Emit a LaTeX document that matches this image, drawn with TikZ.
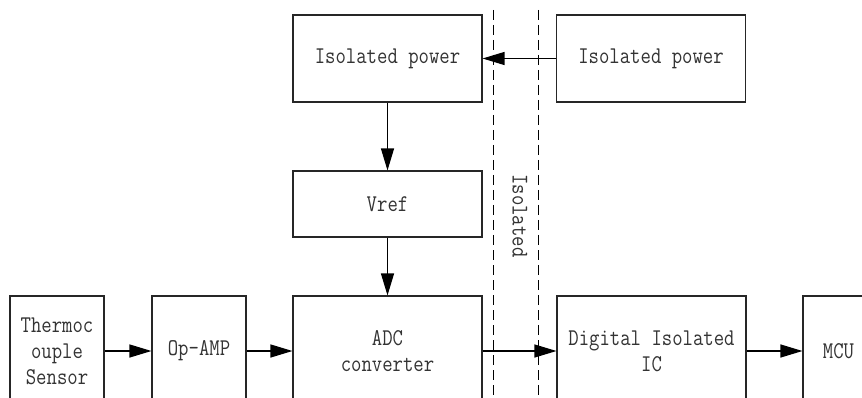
\documentclass[tikz,border=0pt]{standalone}
\usepackage{fontspec}
\setmainfont{Liberation Serif}
\newfontfamily\monof[FakeStretch=0.84]{Latin Modern Mono}
\usetikzlibrary{arrows.meta}
\begin{document}
\begin{tikzpicture}[x=1pt,y=-1pt,
  box/.style={draw=black!85, line width=1.1pt, font=\monof\fontsize{24}{26}\selectfont, align=center, inner sep=0pt, text=black!80},
  lbl/.style={font=\monof\fontsize{24}{26}\selectfont, text=black!80, inner sep=0pt},
  arr/.style={-{Triangle[length=22pt,width=13pt]}, line width=1.2pt},
  sep/.style={dash pattern=on 10pt off 5pt, line width=1pt}]
\useasboundingbox (0,0) rectangle (862,398);
\clip (0,0) rectangle (862,398);
% top row
\node[box, minimum width=189pt, minimum height=87pt] (ip1) at (387.5,58.5) {Isolated power};
\node[box, minimum width=189pt, minimum height=87pt] (ip2) at (651,58.5) {Isolated power};
\node[box, minimum width=189pt, minimum height=66pt] (vref) at (387.5,204) {Vref};
% bottom row
\node[box, minimum width=94pt, minimum height=110pt] (tc) at (57,351) {Thermoc\\ouple\\Sensor};
\node[box, minimum width=94pt, minimum height=110pt] (op) at (199,351) {Op-AMP};
\node[box, minimum width=189pt, minimum height=110pt] (adc) at (387.5,351) {ADC\\converter};
\node[box, minimum width=189pt, minimum height=110pt] (dig) at (651.5,351) {Digital Isolated\\IC};
\node[box, minimum width=71pt, minimum height=110pt] (mcu) at (838.5,351) {MCU};
% isolation barrier
\coordinate (d1t) at (493,10);
\coordinate (d1b) at (493,410);
\coordinate (d2t) at (538,10);
\coordinate (d2b) at (538,410);
\draw[sep] (d1t) -- (d1b);
\draw[sep] (d2t) -- (d2b);
\node[lbl, rotate=-90] (iso) at (520,216) {Isolated};
% connectors
\draw[arr] (ip2.west) -- (ip1.east);
\draw[arr] (ip1.south) -- (vref.north);
\draw[arr] (vref.south) -- (adc.north);
\draw[arr] (tc.east) -- (op.west);
\draw[arr] (op.east) -- (adc.west);
\draw[arr] (adc.east) -- (dig.west);
\draw[arr] (dig.east) -- (mcu.west);
\end{tikzpicture}
\end{document}
